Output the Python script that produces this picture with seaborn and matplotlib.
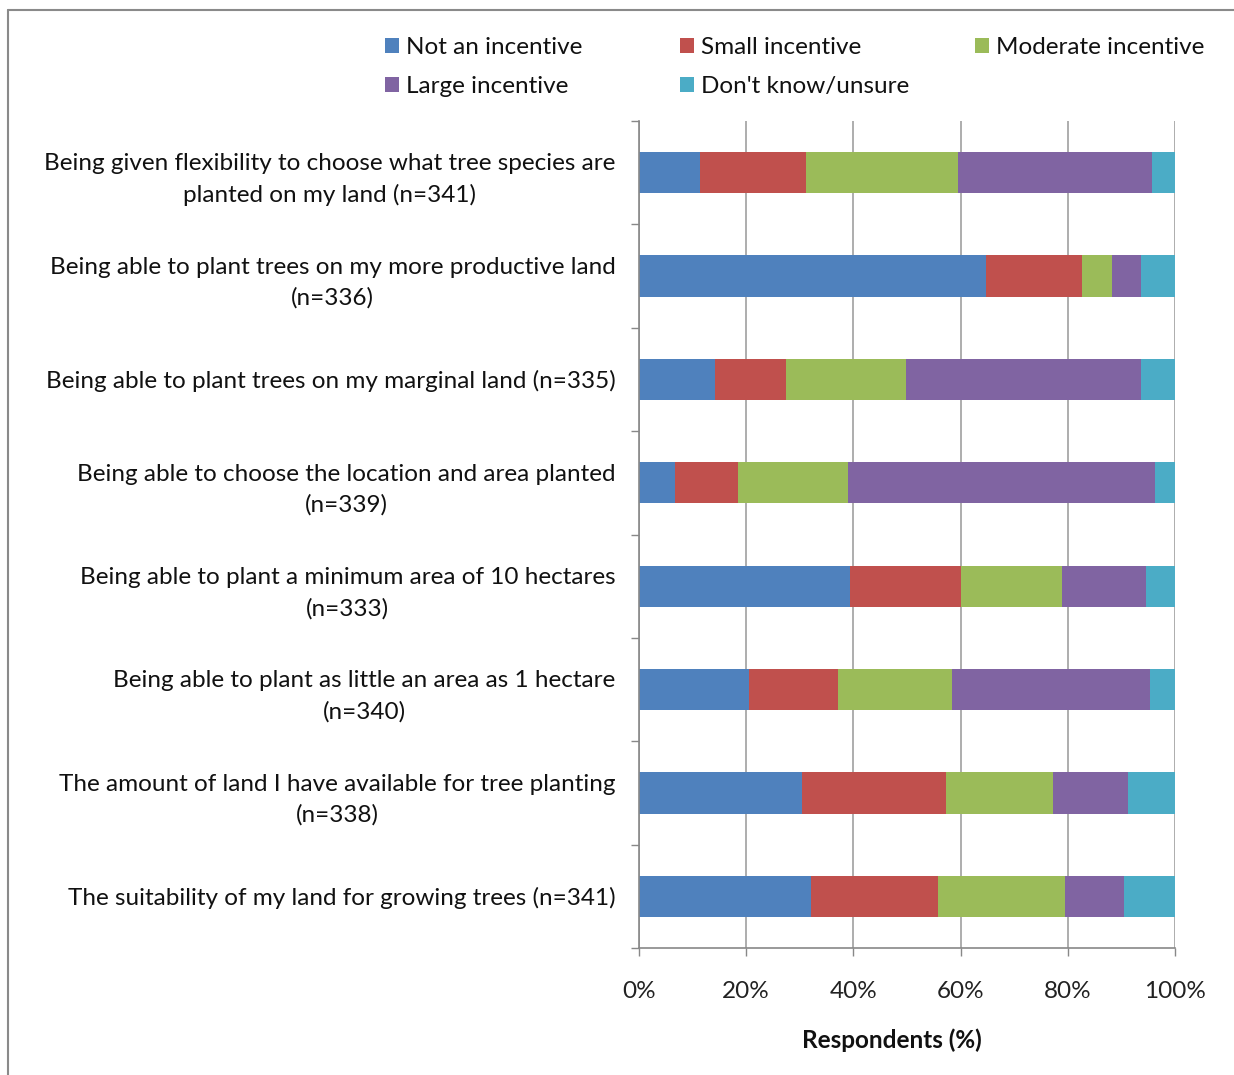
import matplotlib
matplotlib.use("Agg")
import matplotlib.pyplot as plt
import seaborn as sns
import pandas as pd
import numpy as np
from matplotlib.patches import Patch
from matplotlib.lines import Line2D
from matplotlib.ticker import FixedLocator

categories = [
    "Being given flexibility to choose what tree species are\nplanted on my land (n=341)",
    "Being able to plant trees on my more productive land\n(n=336)",
    "Being able to plant trees on my marginal land (n=335)",
    "Being able to choose the location and area planted\n(n=339)",
    "Being able to plant a minimum area of 10 hectares\n(n=333)",
    "Being able to plant as little an area as 1 hectare\n(n=340)",
    "The amount of land I have available for tree planting\n(n=338)",
    "The suitability of my land for growing trees (n=341)",
]

series_names = ["Not an incentive", "Small incentive", "Moderate incentive",
                "Large incentive", "Don't know/unsure"]

not_incentive = [11.3, 64.7, 14.2, 6.8, 39.3, 20.6, 30.4, 32.1]
small_incentive = [19.9, 17.9, 13.3, 11.7, 20.8, 16.5, 26.9, 23.7]
moderate_incentive = [28.3, 5.7, 22.4, 20.5, 18.9, 21.3, 20.0, 23.7]
large_incentive = [36.2, 5.4, 43.8, 57.3, 15.6, 36.9, 13.9, 11.0]
dont_know = [4.3, 6.3, 6.3, 3.7, 5.4, 4.7, 8.8, 9.5]

colors = ["#4F81BD", "#C0504D", "#9BBB59", "#8064A2", "#4BACC6"]
xticks = [0, 20, 40, 60, 80, 100]
xtick_labels = ["0%", "20%", "40%", "60%", "80%", "100%"]

sns.set_theme(style="white")
plt.rcParams["font.family"] = ["Lato", "DejaVu Sans"]

FS = 17.5
W, H = 1234, 1075
fig = plt.figure(figsize=(W / 100, H / 100), dpi=100)
ax = fig.add_axes([639 / W, 1 - 948 / H, (1175 - 639) / W, (948 - 121) / H])

values = np.array([not_incentive, small_incentive, moderate_incentive,
                   large_incentive, dont_know])
cum = np.cumsum(values, axis=0)
df = pd.DataFrame({"category": categories})
for i, name in enumerate(series_names):
    df[name] = cum[i]

ax.set_axisbelow(True)
for i in range(len(series_names) - 1, -1, -1):
    sns.barplot(data=df, x=series_names[i], y="category", color=colors[i],
                orient="h", width=0.4, saturation=1, ax=ax,
                edgecolor="none", linewidth=0, zorder=2)

ax.set_xlim(0, 100)
ax.set_ylim(len(categories) - 0.5, -0.5)
ax.set_xticks(xticks)
ax.set_xticklabels(xtick_labels, fontsize=FS, color="#222222")
ax.xaxis.grid(True, color="#a0a0a0", linewidth=1.2)
ax.yaxis.grid(False)

# category labels
ax.set_yticks(range(len(categories)))
ax.set_yticklabels(categories, fontsize=FS, color="#111111", linespacing=1.55)
for t in ax.get_yticklabels():
    t.set_multialignment("center")
ax.tick_params(axis="y", which="major", length=0, pad=17)
ax.yaxis.set_minor_locator(FixedLocator(np.arange(-0.5, len(categories), 1.0)))
ax.tick_params(axis="y", which="minor", length=6, color="#888888", width=1, left=True)
ax.tick_params(axis="x", which="major", length=6, color="#888888", width=1,
               bottom=True, pad=18)

for s in ["top", "right"]:
    ax.spines[s].set_visible(False)
for s in ["left", "bottom"]:
    ax.spines[s].set_color("#888888")
    ax.spines[s].set_linewidth(1.2)

ax.set_ylabel("")
ax.set_xlabel("Respondents (%)", fontsize=FS, fontweight="bold", color="#111111")
ax.xaxis.set_label_coords((892 - 639) / 536, (948 - 1028) / 827)

# legend, one column each, positioned like the reference
handles = [Patch(facecolor=c, edgecolor="none") for c in colors]
cols = [[0, 3], [1, 4], [2]]
xs = [385, 680, 975]
for col, x in zip(cols, xs):
    leg = fig.legend([handles[i] for i in col], [series_names[i] for i in col],
                     loc="upper left", bbox_to_anchor=(x / W, 1 - 37 / H),
                     frameon=False, fontsize=FS, handlelength=0.58,
                     handleheight=0.58, handletextpad=0.3, labelspacing=0.75,
                     borderaxespad=0, borderpad=0)
    for t in leg.get_texts():
        t.set_color("#111111")

# outer frame (top and left visible in reference)
fig.add_artist(Line2D([8 / W, 8 / W], [0, 1 - 10 / H], transform=fig.transFigure,
                      color="#8a8a8a", linewidth=1.5))
fig.add_artist(Line2D([8 / W, 1], [1 - 10 / H, 1 - 10 / H], transform=fig.transFigure,
                      color="#8a8a8a", linewidth=1.5))

fig.savefig("out.png", dpi=100, facecolor="white")
